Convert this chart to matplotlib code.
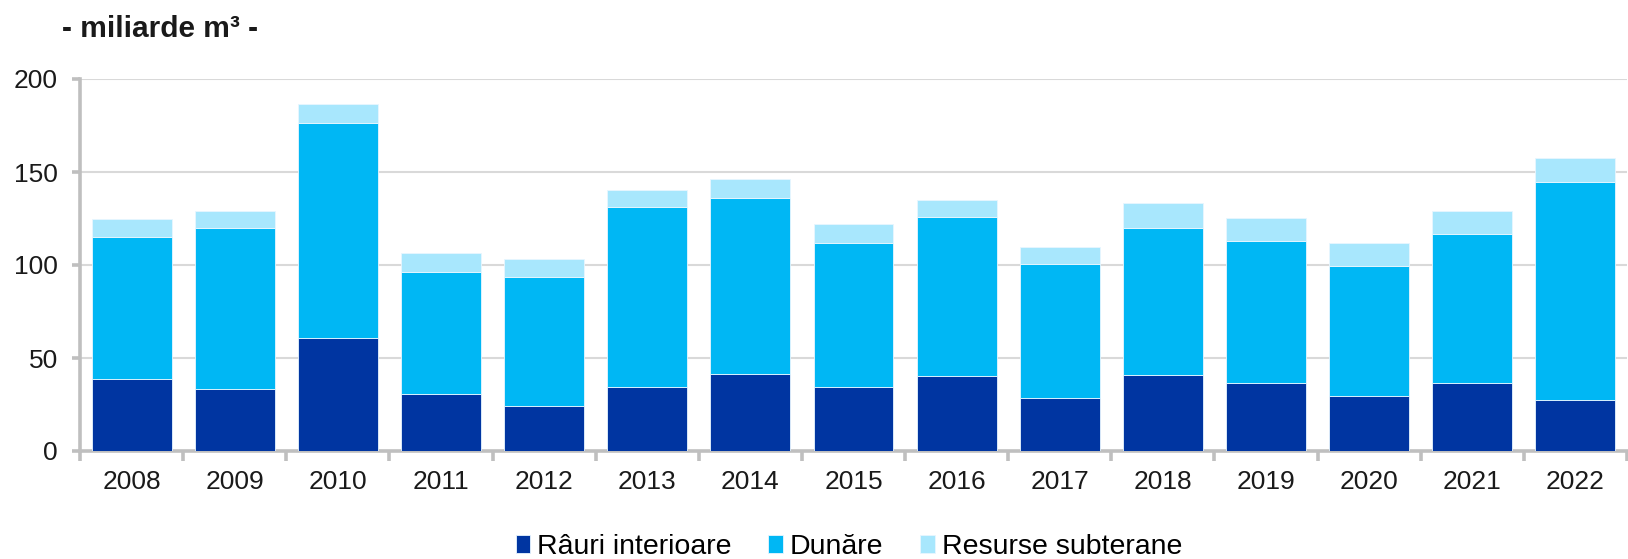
import numpy as np
import matplotlib
matplotlib.use("Agg")
import matplotlib.pyplot as plt
from matplotlib.ticker import FixedLocator

# --- data (miliarde m3) ---
years = ["2008", "2009", "2010", "2011", "2012", "2013", "2014", "2015",
         "2016", "2017", "2018", "2019", "2020", "2021", "2022"]
rauri = [38.5, 33.5, 61.0, 30.5, 24.3, 34.5, 41.3, 34.5,
         40.5, 28.3, 40.7, 36.5, 29.4, 36.5, 27.3]
dunare = [76.4, 86.4, 115.2, 65.7, 69.1, 96.5, 94.9, 77.2,
          85.5, 72.1, 79.2, 76.2, 70.1, 80.3, 117.1]
subterane = [10.0, 9.1, 10.2, 10.3, 10.0, 9.2, 10.2, 10.2,
             9.1, 9.3, 13.3, 12.4, 12.2, 12.2, 13.3]
series_names = ["Râuri interioare", "Dunăre", "Resurse subterane"]
y_ticks = [0, 50, 100, 150, 200]

colors = ["#0035A1", "#00B7F4", "#A8E7FD"]
plt.rcParams["font.family"] = ["Liberation Sans", "DejaVu Sans"]

fig = plt.figure(figsize=(16.28, 5.59), dpi=100)
ax = fig.add_axes([80 / 1628, 1 - 451 / 559, 1547 / 1628, 372 / 559])

x = np.arange(len(years))
bottom = np.zeros(len(years))
for vals, name, col in zip([rauri, dunare, subterane], series_names, colors):
    ax.bar(x, vals, width=0.775, bottom=bottom, color=col, label=name,
           edgecolor="#E8F6FF", linewidth=0.6, zorder=3)
    bottom += np.array(vals)

ax.set_xlim(-0.5, len(years) - 0.5)
ax.set_ylim(0, 200)
ax.set_yticks(y_ticks)
ax.set_xticks(x)
ax.set_xticklabels(years)
ax.xaxis.set_minor_locator(FixedLocator(np.arange(-0.5, len(years), 1.0)))

ax.grid(axis="y", color="#D9D9D9", linewidth=1.5, zorder=0)
for s in ["top", "right"]:
    ax.spines[s].set_visible(False)
for s in ["left", "bottom"]:
    ax.spines[s].set_color("#BFBFBF")
    ax.spines[s].set_linewidth(2.6)

ax.tick_params(axis="x", which="major", length=0, pad=14, labelsize=19, labelcolor="#1a1a1a")
ax.tick_params(axis="x", which="minor", length=7, width=2.6, color="#BFBFBF")
ax.tick_params(axis="y", length=6, width=2.6, color="#BFBFBF", pad=10,
               labelsize=19, labelcolor="#1a1a1a")

fig.text(62 / 1628, 1 - 37 / 559, "- miliarde m³ -", fontsize=21.5,
         fontweight="bold", color="#1a1a1a", va="baseline", ha="left")

# legend centred around y ~ 547 px
ax.legend(loc="center", bbox_to_anchor=(0.497, -(547 - 451) / 372), ncol=3,
          frameon=False, fontsize=20.5, handlelength=0.5, handleheight=0.6,
          handletextpad=0.25, columnspacing=1.3, borderpad=0.05)

fig.savefig("out.png", dpi=100)
